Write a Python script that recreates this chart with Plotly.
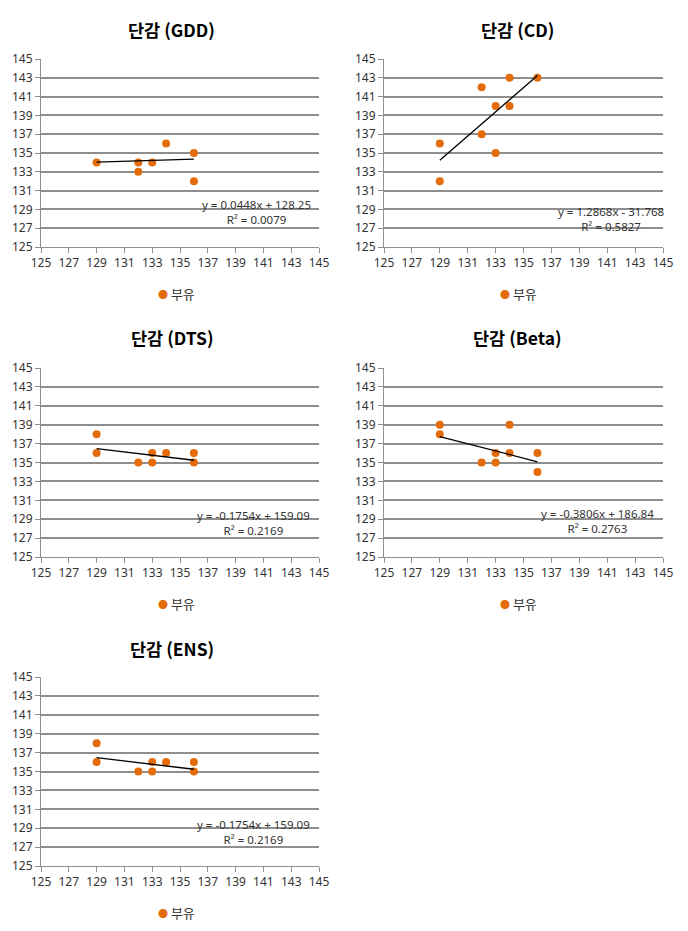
import plotly.graph_objects as go

# ---- data ----
panel_titles = ["단감 (GDD)", "단감 (CD)", "단감 (DTS)", "단감 (Beta)", "단감 (ENS)"]
series_name = "부유"

gdd_x = [129, 132, 132, 133, 134, 136, 136]
gdd_y = [134, 134, 133, 134, 136, 135, 132]

cd_x = [129, 129, 132, 132, 133, 133, 134, 134, 136]
cd_y = [136, 132, 142, 137, 140, 135, 143, 140, 143]

dts_x = [129, 129, 132, 133, 133, 134, 136, 136]
dts_y = [138, 136, 135, 136, 135, 136, 136, 135]

beta_x = [129, 129, 132, 133, 133, 134, 134, 136, 136]
beta_y = [139, 138, 135, 136, 135, 139, 136, 136, 134]

ens_x = [129, 129, 132, 133, 133, 134, 136, 136]
ens_y = [138, 136, 135, 136, 135, 136, 136, 135]

slopes = [0.0448, 1.2868, -0.1754, -0.3806, -0.1754]
intercepts = [128.25, -31.768, 159.09, 186.84, 159.09]
eq_texts = ["y = 0.0448x + 128.25", "y = 1.2868x - 31.768", "y = -0.1754x + 159.09",
            "y = -0.3806x + 186.84", "y = -0.1754x + 159.09"]
r2_texts = ["R² = 0.0079", "R² = 0.5827", "R² = 0.2169", "R² = 0.2763", "R² = 0.2169"]

tick_vals = [125, 127, 129, 131, 133, 135, 137, 139, 141, 143, 145]
tick_labels = [str(v) for v in tick_vals]

xs = [gdd_x, cd_x, dts_x, beta_x, ens_x]
ys = [gdd_y, cd_y, dts_y, beta_y, ens_y]

# ---- layout geometry (page pixels; page body has an 8px margin) ----
OFF = 8
W, H = 672, 915
plot_boxes = [  # (left, right, top, bottom) page px
    (41, 319, 59, 247),
    (384, 663, 59, 247),
    (41, 319, 368, 557),
    (384, 663, 368, 557),
    (41, 319, 677, 866),
]
title_pos = [(171, 29), (517, 29), (172, 338), (517, 338), (172, 648)]
legend_pos = [(176, 293), (518, 293), (176, 603), (518, 603), (176, 912)]
eq_pos = [(140.5, 128.7), (141.3, 128.0), (140.3, 128.6), (140.3, 128.8), (140.3, 128.6)]


def px(x):
    return (x - OFF) / W


def py(y):
    return 1 - (y - OFF) / H


ORANGE = "#E46C0A"
GRID = "#8E8E8E"
TXT = "#333333"
FONT = "Noto Sans, Noto Sans CJK KR"

fig = go.Figure()
layout = dict(
    width=W, height=H, margin=dict(l=0, r=0, t=0, b=0, autoexpand=False),
    paper_bgcolor="white", plot_bgcolor="white",
    font=dict(family=FONT, size=11, color=TXT),
    showlegend=False,
    annotations=[],
)

for i in range(5):
    n = "" if i == 0 else str(i + 1)
    xa, ya = "x" + n, "y" + n
    l, r, t, b = plot_boxes[i]
    layout["xaxis" + n] = dict(
        domain=[px(l), px(r)], range=[125, 145], anchor=ya, automargin=False,
        tickvals=tick_vals, ticktext=tick_labels, showgrid=False,
        showline=True, linecolor=GRID, linewidth=1,
        ticks="outside", ticklen=5, tickcolor=GRID, zeroline=False,
        tickfont=dict(family=FONT, size=12, color=TXT), fixedrange=True,
    )
    layout["yaxis" + n] = dict(
        domain=[py(b), py(t)], range=[125, 145], anchor=xa, automargin=False,
        tickvals=tick_vals, ticktext=tick_labels, showgrid=True,
        gridcolor=GRID, gridwidth=1.5,
        showline=True, linecolor=GRID, linewidth=1,
        ticks="outside", ticklen=5, tickcolor=GRID, zeroline=False,
        tickfont=dict(family=FONT, size=12, color=TXT), fixedrange=True,
    )
    fig.add_trace(go.Scatter(
        x=xs[i], y=ys[i], mode="markers", name=series_name,
        marker=dict(color=ORANGE, size=8), xaxis=xa, yaxis=ya,
    ))
    x0, x1 = min(xs[i]), max(xs[i])
    fig.add_trace(go.Scatter(
        x=[x0, x1], y=[slopes[i] * x0 + intercepts[i], slopes[i] * x1 + intercepts[i]],
        mode="lines", line=dict(color="black", width=1.3),
        xaxis=xa, yaxis=ya, hoverinfo="skip",
    ))
    tx, ty = title_pos[i]
    layout["annotations"].append(dict(
        x=px(tx), y=py(ty), xref="paper", yref="paper", showarrow=False,
        text="<b>" + panel_titles[i] + "</b>", xanchor="center", yanchor="middle",
        font=dict(family="Noto Sans CJK KR", size=17.5, color="black"),
    ))
    ex, ey = eq_pos[i]
    layout["annotations"].append(dict(
        x=ex, y=ey, xref=xa, yref=ya, showarrow=False, align="center",
        text=eq_texts[i] + "<br>" + r2_texts[i], xanchor="center", yanchor="middle",
        font=dict(family=FONT, size=11.5, color=TXT),
    ))
    lx, ly = legend_pos[i]
    layout["annotations"].append(dict(
        x=px(lx), y=py(ly), xref="paper", yref="paper", showarrow=False,
        text="<span style='color:%s;font-size:10px'>●</span> %s" % (ORANGE, series_name),
        xanchor="center", yanchor="middle",
        font=dict(family="Noto Sans CJK KR", size=13, color=TXT),
    ))

fig.update_layout(**layout)
fig.write_html("out.html")
